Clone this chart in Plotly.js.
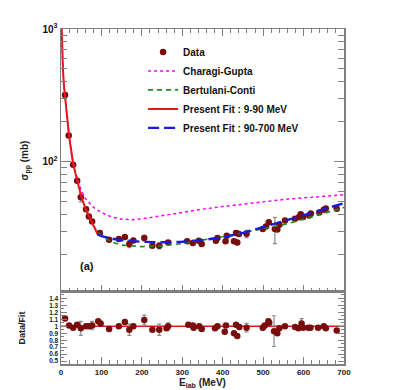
<!DOCTYPE html>
<html>
<head>
<meta charset="utf-8">
<script src="https://cdn.plot.ly/plotly-3.0.1.min.js"></script>
<style>
  html, body { margin: 0; padding: 0; background: #fff; }
  #chart { width: 407px; height: 390px; }
</style>
</head>
<body>
<div id="chart"></div>
<script>
// pp 全断面積 — データ点（上段）
const dataE = [10, 19, 30, 40, 49, 62, 69, 77, 96, 119, 143, 158, 169, 179, 206, 226, 243, 265,
  312, 326, 341, 348, 383, 387, 407, 410, 428, 433, 436, 440, 459, 499, 507, 514, 529, 535, 540,
  554, 579, 589, 593, 599, 614, 618, 639, 650, 655, 682];
const dataSigma = [319, 158, 95, 72, 54, 44, 38.8, 35.6, 29.1, 25.9, 26.2, 27.2, 24.1, 25.6, 26.7, 23.3, 23.3, 24.7,
  25.2, 24.5, 25.4, 24.1, 25.4, 26.7, 25.2, 27.8, 25.2, 29.1, 24.7, 28.6, 28.7, 31.2, 32.6, 35, 31.2, 30.9, 33.6,
  36.2, 37.2, 38.4, 40.3, 38.4, 39.5, 40.8, 41.6, 43.6, 44.5, 44.3];
const dataErr = [3, 2, 1, 1, 4, 1, 0.8, 0.8, 0.6, 0.5, 0.5, 0.6, 1.5, 0.5, 1.3, 0.5, 1.2, 0.8,
  0.5, 0.5, 0.5, 0.5, 0.5, 0.5, 0.5, 0.6, 0.5, 1.2, 0.5, 0.6, 1.8, 0.6, 0.6, 0.7, 7, 0.6, 0.7,
  0.7, 0.7, 0.8, 0.8, 0.8, 0.8, 0.8, 0.8, 0.9, 0.9, 0.9];

// 理論曲線
const cgE = [1.5, 3, 5, 7.5, 10, 15, 20, 30, 40, 50, 60, 80, 100, 125, 150, 175, 200, 250, 300, 350, 400, 450, 500, 550, 600, 650, 700];
const cgSigma = [1050, 700, 480, 370, 318, 212, 157, 98, 75, 61, 53, 45.5, 41.5, 38.5, 37, 36.7, 37.2, 39.3, 41.8, 44, 46, 48, 50, 52, 53.5, 55, 56.5];
const bcE = [60, 70, 80, 90, 100, 125, 150, 200, 250, 300, 350, 400, 450, 500, 550, 600, 650, 700];
const bcSigma = [44, 37.5, 33, 30, 28, 24.9, 23.6, 23.0, 23.3, 24.3, 25.7, 27.3, 29.2, 31.3, 33.6, 37, 41, 45.3];
const lowE = [1.5, 3, 5, 7.5, 10, 15, 20, 30, 40, 50, 60, 70, 80, 90];
const lowSigma = [1050, 700, 480, 370, 316, 212, 156, 96, 71, 55, 45, 38.5, 33, 28.7];
const highE = [90, 100, 125, 150, 200, 250, 300, 350, 400, 450, 500, 550, 600, 650, 700];
const highSigma = [28.5, 27.6, 26.4, 25.7, 25.0, 24.8, 25.0, 25.8, 27.0, 29.2, 32.2, 35.7, 39.8, 44, 48.8];

// 下段：Data/Fit
const ratioE = [10, 20, 30, 40, 49, 62, 70, 77, 92, 98, 119, 143, 158, 169, 179, 206, 226, 243, 261, 265,
  315, 326, 328, 342, 348, 381, 387, 405, 408, 428, 433, 436, 441, 459, 499, 504, 513, 515, 527, 535, 540,
  554, 579, 587, 595, 599, 612, 617, 636, 650, 655, 682];
const ratioVal = [1.11, 1.01, 0.98, 1.02, 0.97, 1.0, 1.0, 1.01, 1.07, 1.04, 0.96, 1.0, 1.06, 0.95, 1.0, 1.09, 0.95, 0.95, 0.97, 1.0,
  1.02, 1.01, 0.98, 1.0, 0.96, 0.97, 1.0, 0.92, 1.01, 0.90, 1.02, 0.86, 0.99, 0.98, 0.98, 1.01, 1.07, 1.05, 0.93, 0.90, 0.97,
  1.0, 0.99, 0.97, 1.04, 0.98, 0.98, 0.98, 0.98, 1.0, 0.97, 0.94];
const ratioErr = [0.02, 0.02, 0.02, 0.02, 0.1, 0.03, 0.03, 0.06, 0.02, 0.02, 0.02, 0.03, 0.02, 0.08, 0.02, 0.07, 0.02, 0.08, 0.02, 0.05,
  0.02, 0.02, 0.02, 0.02, 0.02, 0.02, 0.02, 0.02, 0.02, 0.02, 0.02, 0.02, 0.02, 0.06, 0.02, 0.02, 0.02, 0.02, 0.22, 0.02, 0.02,
  0.02, 0.02, 0.02, 0.07, 0.02, 0.02, 0.02, 0.02, 0.02, 0.02, 0.02];
const fitLineE = [0, 700];
const fitLineR = [1, 1];

const logTickVals = [100, 1000];
const logTickText = ['10<sup>2</sup>', '10<sup>3</sup>'];
const logMinor = [20, 30, 40, 50, 60, 70, 80, 90, 200, 300, 400, 500, 600, 700, 800, 900];
const ratioTicks = [0.5, 0.6, 0.7, 0.8, 0.9, 1, 1.1, 1.2, 1.3, 1.4];
const ratioTickText = ['0.5', '0.6', '0.7', '0.8', '0.9', '1', '1.1', '1.2', '1.3', '1.4'];

const MARKER = '#7a0c0c';
const FONT = 'Liberation Sans, Arial, sans-serif';
const AXIS = '#808080';

const traces = [
  { x: dataE, y: dataSigma, xaxis: 'x2', yaxis: 'y2', mode: 'markers', name: 'Data',
    marker: { color: MARKER, size: 6.5 },
    error_y: { type: 'data', array: dataErr, color: '#8a8a8a', thickness: 1.2, width: 2 } },
  { x: cgE, y: cgSigma, xaxis: 'x2', yaxis: 'y2', mode: 'lines', name: 'Charagi-Gupta',
    line: { color: '#ff00ff', width: 1.5, dash: 'dot' } },
  { x: bcE, y: bcSigma, xaxis: 'x2', yaxis: 'y2', mode: 'lines', name: 'Bertulani-Conti',
    line: { color: '#1a8a1a', width: 1.6, dash: '5px,4px' } },
  { x: lowE, y: lowSigma, xaxis: 'x2', yaxis: 'y2', mode: 'lines', name: 'Present Fit : 9-90 MeV',
    line: { color: '#e8161b', width: 2 } },
  { x: highE, y: highSigma, xaxis: 'x2', yaxis: 'y2', mode: 'lines', name: 'Present Fit : 90-700 MeV',
    line: { color: '#1a1adc', width: 2.4, dash: '11px,5px' } },
  { x: fitLineE, y: fitLineR, xaxis: 'x', yaxis: 'y', mode: 'lines', showlegend: false,
    line: { color: '#e8161b', width: 1.5 } },
  { x: ratioE, y: ratioVal, xaxis: 'x', yaxis: 'y', mode: 'markers', showlegend: false,
    marker: { color: MARKER, size: 6.5 },
    error_y: { type: 'data', array: ratioErr, color: '#8a8a8a', thickness: 1.2, width: 2 } },
];

const tickFont = { family: FONT, size: 8, color: '#222', weight: 'bold' };
const xCommon = {
  range: [0, 700], dtick: 100, tick0: 0, ticks: 'inside', ticklen: 7, tickcolor: AXIS,
  showline: true, linecolor: AXIS, linewidth: 1.5, showgrid: false, zeroline: false,
  minor: { dtick: 20, ticks: 'inside', ticklen: 4, tickcolor: AXIS },
};

const layout = {
  width: 407, height: 390,
  margin: { l: 61, r: 63, t: 29, b: 26 },
  paper_bgcolor: '#fff', plot_bgcolor: '#fff',
  font: { family: FONT, color: '#222' },
  showlegend: true,
  legend: {
    x: 0.29, y: 0.975, xanchor: 'left', yanchor: 'top', bgcolor: 'rgba(0,0,0,0)',
    font: { family: FONT, size: 10, weight: 'bold', color: '#111' }, itemwidth: 30, tracegroupgap: 0,
  },
  xaxis: Object.assign({}, xCommon, {
    anchor: 'y', mirror: true, tickfont: tickFont,
    title: { text: 'E<sub>lab</sub> (MeV)', font: { family: FONT, size: 10, weight: 'bold' }, standoff: 1 },
  }),
  yaxis: {
    domain: [0, 0.215], range: [0.46, 1.49], tickvals: ratioTicks, ticktext: ratioTickText,
    ticks: 'inside', ticklen: 6, tickcolor: AXIS, mirror: 'allticks', showline: true, linecolor: AXIS, linewidth: 1.5,
    showgrid: false, zeroline: false, tickfont: { family: FONT, size: 6.5, color: '#222', weight: 'bold' },
    minor: { dtick: 0.05, tick0: 0, ticks: 'inside', ticklen: 3, tickcolor: AXIS },
    title: { text: 'Data/Fit', font: { family: FONT, size: 9, weight: 'bold' }, standoff: 22 },
  },
  xaxis2: Object.assign({}, xCommon, {
    anchor: 'y2', matches: 'x', mirror: 'allticks', showticklabels: false,
  }),
  yaxis2: {
    domain: [0.215, 1], type: 'log', range: [1.02, 3], tickvals: logTickVals, ticktext: logTickText,
    ticks: 'inside', ticklen: 10, tickcolor: AXIS, mirror: 'allticks', showline: true, linecolor: AXIS, linewidth: 1.5,
    showgrid: false, zeroline: false, tickfont: { family: FONT, size: 10, color: '#111', weight: 'bold' },
    minor: { tickvals: logMinor, ticks: 'inside', ticklen: 6, tickcolor: AXIS },
    title: { text: 'σ<sub>pp</sub> (mb)', font: { family: FONT, size: 10, weight: 'bold' }, standoff: 12 },
  },
  annotations: [
    { x: 64, y: Math.log10(16.5), xref: 'x2', yref: 'y2', text: '(a)', showarrow: false,
      font: { family: FONT, size: 11, weight: 'bold', color: '#111' } },
  ],
};

Plotly.newPlot('chart', traces, layout, { displayModeBar: false, staticPlot: true });
</script>
</body>
</html>
